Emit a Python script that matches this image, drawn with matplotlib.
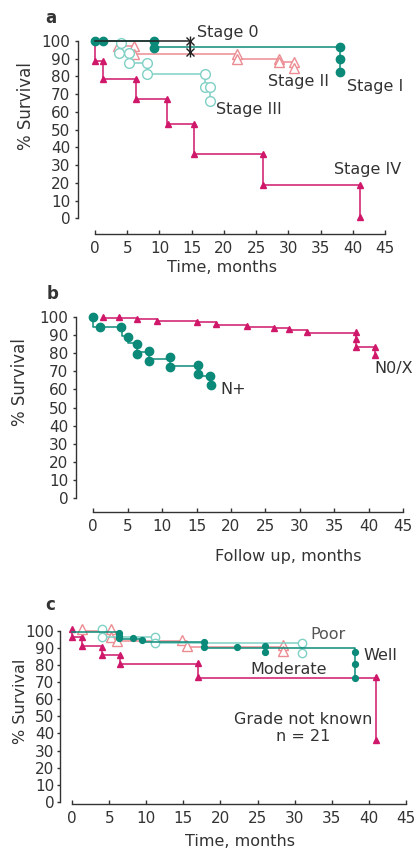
import matplotlib
matplotlib.use("Agg")
import matplotlib.pyplot as plt

W, H = 416, 852

TEAL = '#0b8a79'
LTEAL = '#7fd0c5'
SALMON = '#ec8c92'
MAGENTA = '#d0186b'
INK = '#333333'

# ---- panel a : stage ----
s0_t = [0, 14.7, 14.7]
s0_s = [100, 100, 94]
s0_mt = [14.7, 14.7]
s0_ms = [100, 94]

s1_t = [0, 9.2, 38.0]
s1_s = [100, 96.8, 82.7]
s1_mt = [0, 1.3, 9.2, 9.2, 38.0, 38.0, 38.0]
s1_ms = [100, 100, 100, 96.3, 96.8, 89.8, 82.7]

s2_t = [0, 3.6, 6.0, 22.1, 28.6, 30.9]
s2_s = [100, 97, 92.5, 90, 88, 84.5]
s2_mt = [3.6, 6.0, 6.0, 22.1, 22.1, 28.6, 28.6, 30.9, 30.9]
s2_ms = [97, 97, 92.5, 92.5, 90, 90, 88, 88, 84.5]

s3_t = [4.0, 4.0, 5.2, 8.0, 17.0, 17.9]
s3_s = [100, 93, 87.4, 81.4, 74.3, 66.3]
s3_mt = [4.0, 3.7, 5.2, 5.2, 8.0, 8.0, 17.0, 17.0, 17.9, 17.9]
s3_ms = [99, 93, 93, 87.4, 87.4, 81.4, 81.4, 74.3, 74.3, 66.3]

s4_t = [0, 0, 1.2, 6.4, 11.2, 15.3, 26.1, 41.1]
s4_s = [100, 88.8, 78.6, 67.1, 53.2, 36.3, 18.6, 0]
s4_mt = [0, 1.2, 1.2, 6.4, 6.4, 11.1, 11.3, 15.3, 15.3, 26.1, 26.1, 41.1, 41.1]
s4_ms = [88.8, 88.8, 78.8, 78.6, 67.1, 67.1, 53.2, 53.2, 36.3, 36.3, 18.6, 18.6, 0.6]

# ---- panel b : nodes ----
np_t = [0, 0, 4.1, 5.1, 6.4, 8.1, 11.1, 15.2, 17.1]
np_s = [100, 94.4, 89.5, 85.5, 80.5, 76.7, 72.8, 67.3, 62.4]
np_mt = [0, 1.0, 4.0, 5.1, 6.4, 6.4, 8.1, 8.1, 11.1, 11.1, 15.2, 15.2, 17.0, 17.1]
np_ms = [100, 94.4, 94.2, 88.8, 84.8, 79.6, 81.2, 75.7, 77.9, 72.4, 73.6, 68.2, 67.6, 62.3]

n0_t = [1.4, 6.4, 9.2, 15.0, 17.8, 22.3, 26.2, 28.5, 31.0, 38.2, 40.9]
n0_s = [99.4, 98.5, 97.4, 96.9, 95.6, 94.6, 93.7, 92.8, 91.2, 83.2, 78.9]
n0_mt = [1.4, 3.8, 6.4, 9.2, 15.0, 17.8, 22.3, 26.2, 28.5, 31.0, 38.2, 38.2, 38.2, 40.9, 40.9]
n0_ms = [99.9, 99.9, 98.7, 97.6, 97.2, 95.8, 94.8, 93.9, 93.0, 91.7, 91.4, 87.5, 83.4, 83.4, 78.9]

# ---- panel c : grade ----
gn_t = [0, 0, 1.3, 4.0, 6.5, 16.9, 41.0]
gn_s = [100, 96.2, 90.8, 85.8, 80.3, 72.5, 36.2]
gn_mt = [0, 0, 1.3, 1.3, 4.0, 4.0, 6.5, 6.5, 16.9, 16.9, 41.0, 41.0]
gn_ms = [100.8, 96.5, 96.5, 91.1, 90.7, 85.8, 85.8, 80.6, 81, 72.8, 72.8, 36.2]

mo_t = [1.3, 5.2, 6.1, 15.5, 28.4]
mo_s = [100, 96, 93.8, 90.6, 88.2]
mo_mt = [1.3, 5.2, 5.2, 6.1, 14.8, 15.5, 28.4, 28.4]
mo_ms = [100.8, 100.8, 96.5, 94.2, 94.6, 91.1, 91.7, 88.2]

po_t = [4.0, 4.0, 11.2, 31.0]
po_s = [100, 96.5, 92.6, 87.2]
po_mt = [4.0, 4.0, 11.2, 11.2, 31.0, 31.0]
po_ms = [100.8, 96.5, 96.5, 92.6, 92.6, 87.2]

we_t = [0, 6.3, 9.4, 17.8, 38.1]
we_s = [99.5, 95.4, 93.6, 90.1, 72.2]
we_mt = [6.3, 6.3, 6.3, 8.15, 9.4, 17.8, 17.8, 22.2, 26.0, 26.0, 38.1, 38.1, 38.1]
we_ms = [98.8, 97.1, 95.5, 95.9, 94.6, 93.2, 90.7, 90.7, 91.1, 87.7, 87.7, 80.6, 72.2]

xticks = list(range(0, 50, 5))
yticks = list(range(0, 110, 10))

plt.rcParams['font.family'] = ['DejaVu Sans']
fig = plt.figure(figsize=(W / 100, H / 100), dpi=100)


def ftext(px, py, s, **kw):
    kw.setdefault('color', INK)
    kw.setdefault('fontsize', 11.5)
    fig.text(px / W, 1 - py / H, s, **kw)


def panel(spine_px, x0_px, x45_px, y100_py, y0_py, xaxis_py, ypad):
    kx = (x45_px - x0_px) / 45
    ky = (y0_py - y100_py) / 100
    xmin = (spine_px - x0_px) / kx
    xmax = 46.5
    ymin = -(xaxis_py - y0_py) / ky
    ymax = 104
    right = x0_px + kx * xmax
    top = y100_py - ky * (ymax - 100)
    ax = fig.add_axes([spine_px / W, 1 - xaxis_py / H,
                       (right - spine_px) / W, (xaxis_py - top) / H])
    ax.set_xlim(xmin, xmax)
    ax.set_ylim(ymin, ymax)
    ax.patch.set_visible(False)
    for side in ['top', 'right']:
        ax.spines[side].set_visible(False)
    ax.spines['left'].set_bounds(0, 100)
    ax.spines['bottom'].set_bounds(0, 45)
    for side in ['left', 'bottom']:
        ax.spines[side].set_color(INK)
        ax.spines[side].set_linewidth(1.0)
    ax.set_xticks(xticks)
    ax.set_yticks(yticks)
    ax.tick_params(axis='x', direction='in', length=3, width=1, color=INK,
                   labelsize=11, labelcolor=INK, pad=5)
    ax.tick_params(axis='y', direction='out', length=2.5, width=1, color=INK,
                   labelsize=11, labelcolor=INK, pad=ypad)
    return ax


def km(ax, t, s, mt, ms, color, marker, msize, mfc, lw=1.1, mew=1.0):
    ax.step(t, s, where='post', color=color, lw=lw, clip_on=False)
    ax.plot(mt, ms, ls='none', marker=marker, ms=msize, mfc=mfc, mec=color,
            mew=mew, clip_on=False)


# panel a
ax = panel(78, 95, 385, 41, 218.3, 234, 3)
km(ax, s4_t, s4_s, s4_mt, s4_ms, MAGENTA, '^', 5, MAGENTA)
km(ax, s2_t, s2_s, s2_mt, s2_ms, SALMON, '^', 7, 'white')
km(ax, s3_t, s3_s, s3_mt, s3_ms, LTEAL, 'o', 7, 'white')
km(ax, s1_t, s1_s, s1_mt, s1_ms, TEAL, 'o', 6, TEAL)
km(ax, s0_t, s0_s, s0_mt, s0_ms, '#222222', 'x', 6, 'none')
ax.plot(s0_mt, s0_ms, ls='none', marker='|', ms=7, mec='#222222', mew=1.0)
ax.text(15.9, 105, 'Stage 0', ha='left', va='center', fontsize=11.5, color=INK)
ax.text(26.8, 77, 'Stage II', ha='left', va='center', fontsize=11.5, color=INK)
ax.text(39.1, 74.6, 'Stage I', ha='left', va='center', fontsize=11.5, color=INK)
ax.text(18.8, 61.5, 'Stage III', ha='left', va='center', fontsize=11.5, color=INK)
ax.text(37.1, 27.8, 'Stage IV', ha='left', va='center', fontsize=11.5, color=INK)
ftext(51, 18, 'a', ha='center', va='center', fontweight='bold', fontsize=12)
ftext(26, 106, '% Survival', ha='center', va='center', rotation=90, fontsize=12)
ftext(222, 268, 'Time, months', ha='center', va='center')

# panel b
ax = panel(76, 93.3, 403, 316.7, 498.3, 512.3, 3)
km(ax, n0_t, n0_s, n0_mt, n0_ms, MAGENTA, '^', 4.5, MAGENTA)
km(ax, np_t, np_s, np_mt, np_ms, TEAL, 'o', 6, TEAL)
ax.text(18.4, 60, 'N+', ha='left', va='center', fontsize=11.5, color=INK)
ax.text(40.9, 71.6, 'N0/X', ha='left', va='center', fontsize=11.5, color=INK)
ftext(53, 294, 'b', ha='center', va='center', fontweight='bold', fontsize=12)
ftext(20, 382, '% Survival', ha='center', va='center', rotation=90, fontsize=12)
ftext(288, 556, 'Follow up, months', ha='center', va='center')

# panel c
ax = panel(60, 72.3, 405.7, 630.7, 802, 804.3, 1.5)
km(ax, gn_t, gn_s, gn_mt, gn_ms, MAGENTA, '^', 5, MAGENTA)
km(ax, mo_t, mo_s, mo_mt, mo_ms, SALMON, '^', 7, 'white')
km(ax, po_t, po_s, po_mt, po_ms, LTEAL, 'o', 6, 'white')
km(ax, we_t, we_s, we_mt, we_ms, TEAL, 'o', 4.2, TEAL)
ax.text(32.1, 97.5, 'Poor', ha='left', va='center', fontsize=11.5, color='#555555')
ax.text(39.3, 85.4, 'Well', ha='left', va='center', fontsize=11.5, color=INK)
ax.text(24.0, 77.6, 'Moderate', ha='left', va='center', fontsize=11.5, color=INK)
ax.text(31.1, 43.2, 'Grade not known\nn = 21', ha='center', va='center',
        fontsize=11.5, color=INK, linespacing=1.2)
ftext(50, 605, 'c', ha='center', va='center', fontweight='bold', fontsize=12)
ftext(21, 701, '% Survival', ha='center', va='center', rotation=90, fontsize=11.5)
ftext(240, 842, 'Time, months', ha='center', va='center')

fig.savefig('out.png', dpi=100)
